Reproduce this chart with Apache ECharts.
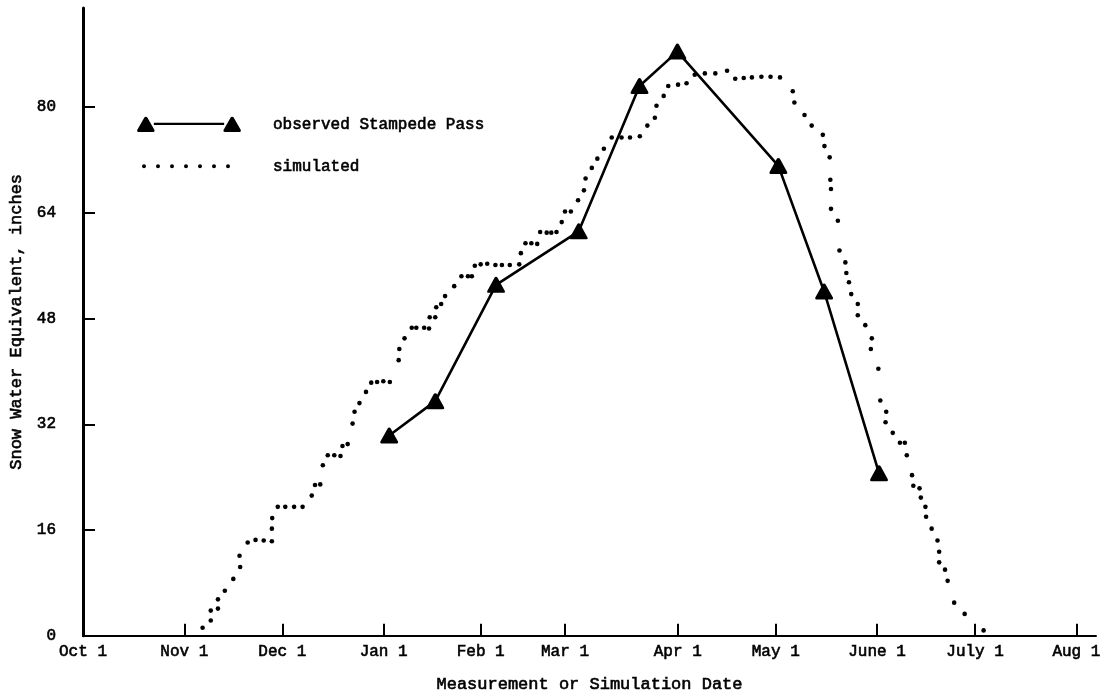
<!DOCTYPE html>
<html>
<head>
<meta charset="utf-8">
<script src="https://cdn.jsdelivr.net/npm/echarts@6/dist/echarts.min.js"></script>
<style>
html,body{margin:0;padding:0;background:#fff;}
#chart{width:1111px;height:698px;}
</style>
</head>
<body>
<div id="chart"></div>
<script>
// ---- data ----
const monthLabels = ['Oct 1','Nov 1','Dec 1','Jan 1','Feb 1','Mar 1','Apr 1','May 1','June 1','July 1','Aug 1'];
// day offsets from Oct 1 where the month ticks are drawn
const monthTickDays = [0, 31, 61, 92, 121.7, 147.5, 182, 212, 243, 273, 304];
const yTickValues = [0, 16, 32, 48, 64, 80];

const observedDays = [93.7, 107.8, 126.4, 151.7, 170.3, 181.9, 212.8, 226.8, 243.6];
const observedSWE  = [30.3, 35.5, 53.1, 61.2, 83.2, 88.4, 71.1, 52.1, 24.6];

const simulatedDays = [
  36.6,39.1,39.1,41.3,41.3,43.4,46.0,48.1,47.9,50.4,
  52.8,55.3,57.8,57.8,57.9,59.6,61.9,64.6,67.2,70.0,
  71.0,72.6,73.4,74.9,76.9,78.8,79.4,81.0,82.5,83.1,
  84.6,86.6,88.2,90.0,91.9,93.9,96.6,96.8,98.4,100.6,
  102.0,104.4,105.9,106.1,107.8,108.1,109.6,110.8,113.6,115.8,
  117.8,119.0,119.9,121.7,123.7,126.2,128.2,130.6,133.5,134.0,
  135.4,137.2,139.0,139.9,141.9,143.3,144.9,146.5,147.5,149.3,
  151.5,153.3,153.8,155.7,157.4,159.4,161.8,164.8,167.4,170.4,
  172.7,175.0,175.5,177.7,179.1,182.1,184.7,187.2,190.3,193.5,
  197.1,199.6,202.2,204.7,207.6,210.4,213.3,217.2,217.7,220.8,
  223.0,226.4,226.9,228.5,228.7,228.9,228.9,231.0,231.5,233.3,
  233.6,234.4,235.1,237.1,237.1,239.4,241.4,241.1,243.4,244.0,
  245.8,245.6,247.8,250.0,251.5,252.1,253.7,254.1,256.0,256.4,
  257.8,258.0,259.7,261.5,262.0,262.0,263.8,264.6,266.6,269.8,
  275.6
];
const simulatedSWE = [
  1.2,2.3,3.8,4.1,5.5,6.8,8.6,10.4,12.1,14.1,
  14.5,14.4,14.3,16.2,17.8,19.5,19.5,19.5,19.5,21.2,
  22.8,22.9,25.8,27.3,27.3,27.2,28.7,29.0,32.1,33.9,
  35.2,36.9,38.3,38.4,38.5,38.4,41.7,43.4,45.0,46.6,
  46.6,46.6,46.5,48.2,48.2,49.7,50.2,51.4,52.9,54.4,
  54.4,54.4,56.0,56.2,56.3,56.1,56.1,56.1,56.2,57.9,
  59.4,59.4,59.3,61.1,61.0,61.0,61.1,62.6,64.2,64.2,
  65.9,67.4,69.2,70.8,72.2,73.7,75.4,75.4,75.4,75.6,
  77.2,78.4,80.2,81.7,83.2,83.4,83.6,84.9,85.1,85.1,
  85.5,84.3,84.4,84.5,84.6,84.6,84.5,82.4,80.7,78.8,
  77.2,75.8,74.1,72.4,69.0,67.6,64.6,62.8,58.3,56.5,
  54.9,53.5,51.7,50.2,48.5,47.0,45.0,43.4,40.4,35.6,
  33.9,32.3,30.7,29.2,29.2,27.3,24.3,22.7,22.3,20.9,
  19.5,18.0,16.2,14.4,12.7,11.1,10.0,8.3,5.0,3.3,
  0.8
];

const observedName = 'observed Stampede Pass';
const simulatedName = 'simulated';

// ---- styling helpers ----
const FONT = '"Liberation Mono", "DejaVu Sans Mono", monospace';
const INK = {color: '#000', textBorderColor: '#000', textBorderWidth: 0.6};
const TRI = 'path://M9,0.6 Q10,0.6 10.5,1.5 L17.6,14.0 Q18.3,15.8 16.6,15.8 L1.4,15.8 Q-0.3,15.8 0.4,14.0 L7.5,1.5 Q8,0.6 9,0.6 Z';
const legendTriIcon = 'path://' +
  'M9,0.6 Q10,0.6 10.5,1.5 L17.6,14.0 Q18.3,15.8 16.6,15.8 L1.4,15.8 Q-0.3,15.8 0.4,14.0 L7.5,1.5 Q8,0.6 9,0.6 Z ' +
  'M17,6.6 L87,6.6 L87,9.0 L17,9.0 Z ' +
  'M95,0.6 Q96,0.6 96.5,1.5 L103.6,14.0 Q104.3,15.8 102.6,15.8 L87.4,15.8 Q85.7,15.8 86.4,14.0 L93.5,1.5 Q94,0.6 95,0.6 Z';
let dotIcon = 'path://';
for (let i = 0; i < 7; i++) {
  const cx = 2 + i * 14;
  dotIcon += 'M' + (cx - 2) + ',2 a2,2 0 1,0 4,0 a2,2 0 1,0 -4,0 Z ';
}

const chart = echarts.init(document.getElementById('chart'), null, {renderer: 'canvas'});
chart.setOption({
  animation: false,
  backgroundColor: '#ffffff',
  textStyle: {fontFamily: FONT, color: '#000'},
  grid: {left: 80, right: 15, top: 8, bottom: 60, containLabel: false},
  legend: [
    {
      data: [{name: observedName, icon: legendTriIcon}],
      left: 137, top: 116, padding: 0,
      itemWidth: 104, itemHeight: 16,
      selectedMode: false,
      textStyle: Object.assign({fontFamily: FONT, fontSize: 16, padding: [0, 0, 0, 27]}, INK)
    },
    {
      data: [{name: simulatedName, icon: dotIcon}],
      left: 142, top: 158, padding: 0,
      itemWidth: 88, itemHeight: 4,
      selectedMode: false,
      textStyle: Object.assign({fontFamily: FONT, fontSize: 16, padding: [0, 0, 10, 38]}, INK)
    }
  ],
  xAxis: {
    type: 'value',
    min: 0, max: 310,
    name: 'Measurement or Simulation Date',
    nameLocation: 'middle',
    nameGap: 40,
    nameTextStyle: Object.assign({fontFamily: FONT, fontSize: 17}, INK),
    splitLine: {show: false},
    axisLine: {show: true, onZero: true, lineStyle: {color: '#000', width: 2}},
    axisTick: {show: true, inside: true, length: 12, customValues: monthTickDays, lineStyle: {color: '#000', width: 2}},
    axisLabel: Object.assign({
      show: true, margin: 8, customValues: monthTickDays,
      fontFamily: FONT, fontSize: 16,
      formatter: function (v) {
        const i = monthTickDays.indexOf(v);
        return i >= 0 ? monthLabels[i] : '';
      }
    }, INK)
  },
  yAxis: {
    type: 'value',
    min: 0, max: 95,
    name: 'Snow Water Equivalent, inches',
    nameLocation: 'middle',
    nameGap: 53,
    nameRotate: 90,
    nameTextStyle: Object.assign({fontFamily: FONT, fontSize: 17}, INK),
    splitLine: {show: false},
    axisLine: {show: true, lineStyle: {color: '#000', width: 3}},
    axisTick: {show: true, inside: true, length: 12, customValues: yTickValues.filter(v => v > 0), lineStyle: {color: '#000', width: 2}},
    axisLabel: Object.assign({show: true, margin: 27, customValues: yTickValues, fontFamily: FONT, fontSize: 16}, INK)
  },
  series: [
    {
      name: observedName,
      type: 'line',
      data: observedDays.map((d, i) => [d, observedSWE[i]]),
      symbol: TRI,
      symbolSize: [18, 16],
      showSymbol: true,
      itemStyle: {color: '#000'},
      lineStyle: {color: '#000', width: 2.6},
      z: 3
    },
    {
      name: simulatedName,
      type: 'scatter',
      data: simulatedDays.map((d, i) => [d, simulatedSWE[i]]),
      symbol: 'circle',
      symbolSize: 4.6,
      itemStyle: {color: '#000', opacity: 1},
      z: 2
    }
  ]
});
</script>
</body>
</html>
